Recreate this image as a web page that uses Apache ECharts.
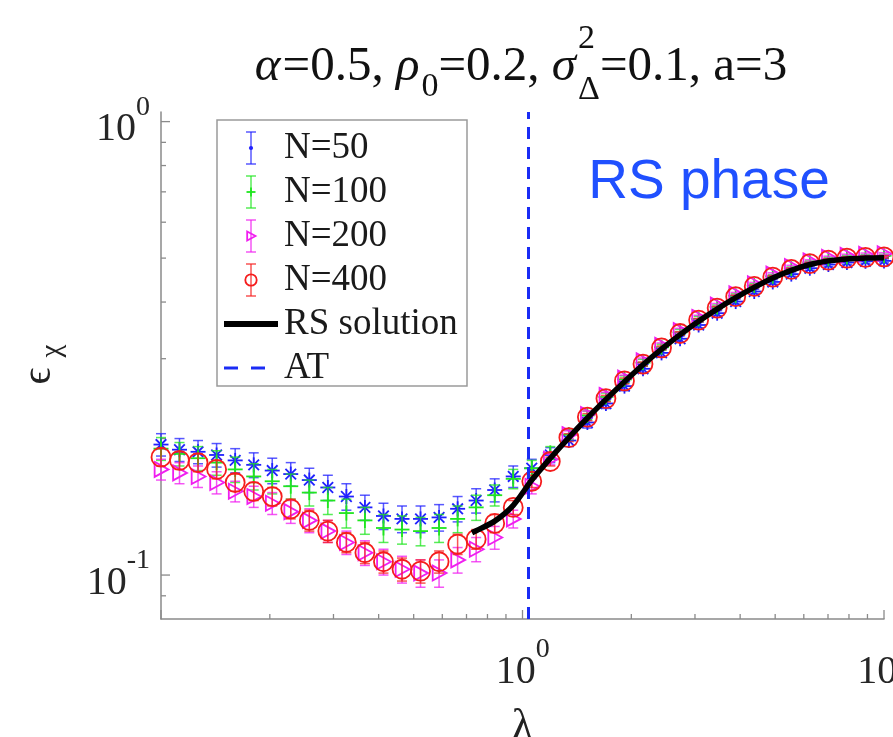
<!DOCTYPE html>
<html>
<head>
<meta charset="utf-8">
<script src="https://cdn.jsdelivr.net/npm/echarts@6/dist/echarts.min.js"></script>
<style>
html, body { margin: 0; padding: 0; background: #fff; }
#chart { width: 893px; height: 737px; }
</style>
</head>
<body>
<div id="chart"></div>
<script>
// lambda grid (log spaced 0.1 .. 10)
const lambda = [0.1, 0.1125, 0.1266, 0.1425, 0.1604, 0.1805, 0.2031, 0.2285, 0.2572, 0.2894,
  0.3257, 0.3665, 0.4125, 0.4642, 0.5223, 0.5878, 0.6615, 0.7444, 0.8377, 0.9427,
  1.0608, 1.1938, 1.3434, 1.5118, 1.7013, 1.9145, 2.1544, 2.4245, 2.7283, 3.0703,
  3.4551, 3.8882, 4.3755, 4.9239, 5.5410, 6.2355, 7.0170, 7.8965, 8.8862, 10];

const n50 = [0.194, 0.189, 0.187, 0.184, 0.179, 0.175, 0.170, 0.167, 0.162, 0.156,
  0.149, 0.141, 0.135, 0.133, 0.133, 0.134, 0.140, 0.146, 0.154, 0.165,
  0.172, 0.184, 0.198, 0.217, 0.239, 0.261, 0.285, 0.309, 0.332, 0.356,
  0.378, 0.401, 0.422, 0.443, 0.461, 0.475, 0.484, 0.489, 0.492, 0.493];
const err50 = [0.011, 0.011, 0.011, 0.011, 0.011, 0.011, 0.011, 0.010, 0.010, 0.010,
  0.010, 0.009, 0.009, 0.009, 0.009, 0.009, 0.009, 0.009, 0.009, 0.009,
  0.008, 0.007, 0.006, 0.006, 0.006, 0.006, 0.006, 0.006, 0.005, 0.005,
  0.005, 0.005, 0.005, 0.005, 0.005, 0.005, 0.005, 0.005, 0.005, 0.005];

const n100 = [0.190, 0.185, 0.181, 0.177, 0.171, 0.165, 0.161, 0.157, 0.152, 0.146,
  0.137, 0.132, 0.127, 0.126, 0.125, 0.127, 0.133, 0.141, 0.150, 0.163,
  0.172, 0.186, 0.204, 0.225, 0.247, 0.270, 0.294, 0.318, 0.343, 0.367,
  0.390, 0.413, 0.435, 0.456, 0.474, 0.489, 0.498, 0.503, 0.505, 0.506];
const err100 = [0.011, 0.011, 0.011, 0.011, 0.011, 0.011, 0.010, 0.010, 0.010, 0.010,
  0.010, 0.009, 0.009, 0.009, 0.009, 0.009, 0.009, 0.009, 0.008, 0.008,
  0.007, 0.006, 0.005, 0.005, 0.005, 0.005, 0.005, 0.005, 0.005, 0.005,
  0.004, 0.004, 0.004, 0.004, 0.004, 0.004, 0.004, 0.004, 0.004, 0.004];

const n200 = [0.171, 0.168, 0.165, 0.160, 0.153, 0.149, 0.144, 0.138, 0.132, 0.125,
  0.118, 0.112, 0.107, 0.103, 0.101, 0.101, 0.108, 0.114, 0.121, 0.133,
  0.157, 0.180, 0.204, 0.226, 0.249, 0.272, 0.297, 0.321, 0.346, 0.370,
  0.394, 0.417, 0.439, 0.461, 0.479, 0.493, 0.502, 0.507, 0.510, 0.511];
const err200 = [0.009, 0.009, 0.009, 0.009, 0.008, 0.008, 0.008, 0.008, 0.008, 0.007,
  0.007, 0.007, 0.007, 0.007, 0.007, 0.007, 0.007, 0.007, 0.007, 0.006,
  0.006, 0.005, 0.004, 0.004, 0.004, 0.004, 0.004, 0.004, 0.004, 0.004,
  0.003, 0.003, 0.003, 0.003, 0.003, 0.003, 0.003, 0.003, 0.003, 0.003];

const n400 = [0.182, 0.179, 0.177, 0.171, 0.160, 0.153, 0.149, 0.140, 0.132, 0.125,
  0.118, 0.112, 0.107, 0.103, 0.102, 0.107, 0.117, 0.120, 0.130, 0.141,
  0.161, 0.178, 0.201, 0.223, 0.245, 0.268, 0.292, 0.317, 0.341, 0.365,
  0.388, 0.411, 0.433, 0.454, 0.472, 0.486, 0.495, 0.500, 0.502, 0.503];
const err400 = [0.008, 0.008, 0.008, 0.008, 0.007, 0.007, 0.007, 0.007, 0.007, 0.007,
  0.006, 0.006, 0.006, 0.006, 0.006, 0.006, 0.006, 0.006, 0.006, 0.005,
  0.005, 0.004, 0.004, 0.004, 0.004, 0.004, 0.003, 0.003, 0.003, 0.003,
  0.003, 0.003, 0.003, 0.003, 0.003, 0.003, 0.003, 0.003, 0.003, 0.003];

// RS solution curve
const rsLambda = [0.725, 0.7444, 0.8377, 0.9427, 1.0608, 1.1938, 1.3434, 1.5118, 1.7013, 1.9145,
  2.1544, 2.4245, 2.7283, 3.0703, 3.4551, 3.8882, 4.3755, 4.9239, 5.5410, 6.2355,
  7.0170, 7.8965, 8.8862, 10];
const rsEps = [0.1239, 0.1252, 0.1315, 0.1425, 0.162, 0.181, 0.201, 0.222, 0.244, 0.267,
  0.291, 0.315, 0.339, 0.363, 0.386, 0.409, 0.431, 0.452, 0.470, 0.484,
  0.493, 0.498, 0.500, 0.501];

// AT line position
const atLambda = 1.043;

// axis ranges and ticks
const X_MIN = 0.1, X_MAX = 10, Y_MIN = 0.08, Y_MAX = 1.05;
const xMajorTicks = [0.1, 1, 10];
const xMinorTicks = [0.2, 0.3, 0.4, 0.5, 0.6, 0.7, 0.8, 0.9, 2, 3, 4, 5, 6, 7, 8, 9];
const yMajorTicks = [0.1, 1];
const yMinorTicks = [0.09, 0.2, 0.3, 0.4, 0.5, 0.6, 0.7, 0.8, 0.9];

const seriesNames = ['N=50', 'N=100', 'N=200', 'N=400', 'RS solution', 'AT'];
const colors = { n50: '#2020ff', n100: '#1fe61f', n200: '#f01ef0', n400: '#f51c1c', at: '#1a2cf5' };

const SERIF = '"Liberation Serif", "Times New Roman", "DejaVu Serif", serif';
const AXIS_GREY = '#8a8a8a';
const TEXT = '#222';

function seg(x1, y1, x2, y2, style) {
  return { type: 'line', shape: { x1: x1, y1: y1, x2: x2, y2: y2 }, style: style };
}

function markerShapes(kind, x, y, color, s) {
  const st = { stroke: color, fill: 'none', lineWidth: 1.8 };
  if (kind === 'star') {
    const r = 7.5 * s, d = 5.3 * s;
    return [seg(x - r, y, x + r, y, st), seg(x, y - r, x, y + r, st),
      seg(x - d, y - d, x + d, y + d, st), seg(x - d, y + d, x + d, y - d, st)];
  }
  if (kind === 'dot') {
    return [{ type: 'circle', shape: { cx: x, cy: y, r: 3.5 * s }, style: { fill: color } }];
  }
  if (kind === 'plus') {
    const r = 7.5 * s;
    return [seg(x - r, y, x + r, y, st), seg(x, y - r, x, y + r, st)];
  }
  if (kind === 'tri') {
    const r = 7.5 * s;
    return [{ type: 'polygon', shape: { points: [[x - r * 0.85, y - r], [x + r, y], [x - r * 0.85, y + r]] }, style: st }];
  }
  // circle
  return [{ type: 'circle', shape: { cx: x, cy: y, r: 9.5 * s }, style: st }];
}

function errSeries(name, values, errs, kind, color) {
  return {
    name: name,
    type: 'custom',
    coordinateSystem: 'cartesian2d',
    data: lambda.map((x, i) => [x, values[i], errs[i]]),
    encode: { x: 0, y: 1 },
    renderItem: function (params, api) {
      const x = api.value(0), y = api.value(1), e = api.value(2);
      const c = api.coord([x, y]);
      const t = api.coord([x, y + e]);
      const b = api.coord([x, y - e]);
      const bar = { stroke: color, lineWidth: 1.5, opacity: 0.75 };
      const children = [
        seg(c[0], t[1], c[0], b[1], bar),
        seg(c[0] - 5, t[1], c[0] + 5, t[1], bar),
        seg(c[0] - 5, b[1], c[0] + 5, b[1], bar)
      ].concat(markerShapes(kind, c[0], c[1], color, 1));
      return { type: 'group', children: children };
    }
  };
}

// ticks drawn inside the axes, MATLAB style
const tickData = []
  .concat(xMajorTicks.map(v => [v, Y_MIN, 0, 9]))
  .concat(xMinorTicks.map(v => [v, Y_MIN, 0, 5]))
  .concat(yMajorTicks.map(v => [X_MIN, v, 1, 9]))
  .concat(yMinorTicks.map(v => [X_MIN, v, 1, 5]));

const tickSeries = {
  type: 'custom',
  coordinateSystem: 'cartesian2d',
  silent: true,
  data: tickData,
  encode: { x: 0, y: 1 },
  renderItem: function (params, api) {
    const p = api.coord([api.value(0), api.value(1)]);
    const len = api.value(3);
    const st = { stroke: AXIS_GREY, lineWidth: 1.3 };
    if (api.value(2) === 0) return seg(p[0], p[1], p[0], p[1] - len, st);
    return seg(p[0], p[1], p[0] + len, p[1], st);
  }
};

function powLabel(showNeg) {
  return function (v) {
    const lg = Math.log10(v);
    const p = Math.round(lg);
    if (Math.abs(lg - p) > 1e-6) return '';
    if (!showNeg && p < 0) return '';
    return '{z| }{b|10}{s|' + p + '}';
  };
}
const powRich = {
  z: { fontSize: 1, lineHeight: 56 },
  b: { fontSize: 40, lineHeight: 40, verticalAlign: 'bottom', fontFamily: SERIF, color: '#262626' },
  s: { fontSize: 28, lineHeight: 36, verticalAlign: 'top', fontFamily: SERIF, color: '#262626' }
};

// title pieces: text, style, baseline offset
const titleParts = [
  ['α', 'i', 0], ['=0.5, ', 'n', 0], ['ρ', 'i', 0], ['0', 's', 15], ['=0.2, ', 'n', 0],
  ['σ', 'i', 0], ['2', 'S', -33], ['Δ', 's', 18], ['=0.1, a=3', 'n', 0]
];

const mctx = document.createElement('canvas').getContext('2d');
function fontOf(kind) {
  const size = (kind === 's' || kind === 'S') ? 34 : 49;
  const style = kind === 'i' ? 'italic ' : '';
  return { size: size, font: style + size + 'px ' + SERIF };
}
function buildTitle(cx, baseline) {
  let w = 0;
  const placed = [];
  titleParts.forEach(part => {
    const f = fontOf(part[1]);
    mctx.font = f.font;
    const tw = mctx.measureText(part[0]).width;
    placed.push({ text: part[0], x: w, dy: part[2], f: f });
    if (part[1] !== 'S') w += tw + (part[1] === 'i' ? 2 : 0);
  });
  const x0 = cx - w / 2;
  return placed.map(p => ({
    type: 'text',
    x: x0 + p.x,
    y: baseline + p.dy - 0.3375 * p.f.size,
    style: { text: p.text, font: p.f.font, fill: '#111', align: 'left', verticalAlign: 'middle' }
  }));
}

// y axis title: epsilon with chi subscript, rotated
function buildYLabel() {
  return [
    { type: 'text', x: 39, y: 376, rotation: Math.PI / 2,
      style: { text: 'ϵ', font: '42px ' + SERIF, fill: TEXT, align: 'center', verticalAlign: 'middle' } },
    { type: 'text', x: 52, y: 351, rotation: Math.PI / 2,
      style: { text: 'χ', font: '29px ' + SERIF, fill: TEXT, align: 'center', verticalAlign: 'middle' } }
  ];
}

function buildLegend() {
  const left = 217, top = 120, w = 250, h = 266;
  const rowTop = 148, rowGap = 44, iconX = 251, textX = 284;
  const kinds = ['dot', 'plus', 'tri', 'circle'];
  const cols = [colors.n50, colors.n100, colors.n200, colors.n400];
  const els = [{
    type: 'rect', shape: { x: left, y: top, width: w, height: h },
    style: { fill: '#fff', stroke: '#9a9a9a', lineWidth: 1.5 }
  }];
  seriesNames.forEach((name, i) => {
    const cy = rowTop + i * rowGap;
    if (i < 4) {
      const bar = { stroke: cols[i], lineWidth: 1.5, opacity: 0.75 };
      els.push(seg(iconX, cy - 16, iconX, cy + 16, bar));
      els.push(seg(iconX - 5, cy - 16, iconX + 5, cy - 16, bar));
      els.push(seg(iconX - 5, cy + 16, iconX + 5, cy + 16, bar));
      markerShapes(kinds[i], iconX, cy, cols[i], 0.6).forEach(m => els.push(m));
    } else if (i === 4) {
      els.push(seg(224, cy, 278, cy, { stroke: '#000', lineWidth: 6 }));
    } else {
      els.push(seg(224, cy, 238, cy, { stroke: colors.at, lineWidth: 3 }));
      els.push(seg(251, cy, 265, cy, { stroke: colors.at, lineWidth: 3 }));
    }
    els.push({
      type: 'text', x: textX, y: cy,
      style: { text: name, font: '37px ' + SERIF, fill: '#1a1a1a', align: 'left', verticalAlign: 'middle' }
    });
  });
  return els;
}

const chart = echarts.init(document.getElementById('chart'));

const option = {
  animation: false,
  backgroundColor: '#fff',
  grid: { left: 161, right: 9, top: 112, bottom: 118, containLabel: false, outerBoundsMode: 'none' },
  xAxis: {
    type: 'log', logBase: 10, min: X_MIN, max: X_MAX,
    axisLine: { onZero: false, lineStyle: { color: AXIS_GREY, width: 1.5 } },
    axisTick: { show: false },
    splitLine: { show: false },
    minorTick: { show: false },
    axisLabel: { formatter: powLabel(false), rich: powRich, margin: 17 },
    name: 'λ', nameLocation: 'middle', nameGap: 86,
    nameTextStyle: { fontFamily: SERIF, fontSize: 44, color: TEXT }
  },
  yAxis: {
    type: 'log', logBase: 10, min: Y_MIN, max: Y_MAX,
    axisLine: { onZero: false, lineStyle: { color: AXIS_GREY, width: 1.5 } },
    axisTick: { show: false },
    splitLine: { show: false },
    minorTick: { show: false },
    axisLabel: { formatter: powLabel(true), rich: powRich, margin: 11 }
  },
  series: [
    tickSeries,
    errSeries('N=50', n50, err50, 'star', colors.n50),
    errSeries('N=100', n100, err100, 'plus', colors.n100),
    errSeries('N=200', n200, err200, 'tri', colors.n200),
    errSeries('N=400', n400, err400, 'circle', colors.n400),
    {
      name: 'RS solution',
      type: 'line',
      data: rsLambda.map((x, i) => [x, rsEps[i]]),
      showSymbol: false,
      smooth: 0.3,
      lineStyle: { color: '#000', width: 5.5 },
      z: 5,
      markLine: {
        silent: true,
        symbol: ['none', 'none'],
        label: { show: false },
        lineStyle: { color: colors.at, type: [12, 8], width: 3 },
        data: [{ name: 'AT', xAxis: atLambda }]
      }
    }
  ],
  graphic: [
    { type: 'group', children: buildTitle(521, 84) },
    { type: 'group', children: buildYLabel() },
    {
      type: 'text', x: 709, y: 183,
      style: { text: 'RS phase', font: '55px "Liberation Sans", Arial, sans-serif', fill: '#2050ff', align: 'center', verticalAlign: 'middle' }
    },
    { type: 'group', children: buildLegend() }
  ]
};

chart.setOption(option);
</script>
</body>
</html>
